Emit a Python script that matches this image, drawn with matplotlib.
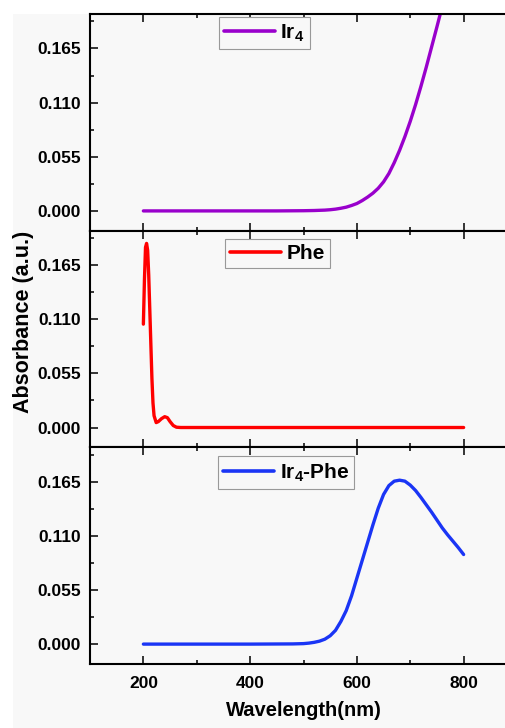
import matplotlib.pyplot as plt
from matplotlib.patches import Rectangle
from matplotlib.ticker import MultipleLocator

# --- data ---
ir4_wl = [200, 300, 400, 450, 500, 510, 520, 530, 540, 550, 560, 570, 580, 590,
          600, 610, 620, 630, 640, 650, 660, 670, 680, 690, 700, 710, 720, 730,
          740, 750, 760, 770]
ir4_abs = [0.0, 0.0, 0.0, 0.0, 0.0002, 0.0003, 0.0004, 0.0006, 0.0008, 0.0012,
           0.0018, 0.0027, 0.0038, 0.0055, 0.0075, 0.0105, 0.014, 0.018, 0.023,
           0.0295, 0.038, 0.049, 0.0615, 0.0755, 0.091, 0.108, 0.1265, 0.146,
           0.1665, 0.187, 0.208, 0.229]

phe_wl = [200, 202, 204, 206, 208, 210, 212, 214, 216, 218, 220, 224, 228, 234,
          240, 245, 250, 256, 262, 270, 400, 600, 800]
phe_abs = [0.105, 0.15, 0.183, 0.187, 0.18, 0.155, 0.12, 0.085, 0.05, 0.025,
           0.012, 0.005, 0.006, 0.009, 0.011, 0.01, 0.006, 0.002, 0.0003, 0.0,
           0.0, 0.0, 0.0]

mix_wl = [200, 400, 480, 500, 510, 520, 530, 540, 550, 560, 570, 580, 590, 600,
          610, 620, 630, 640, 650, 660, 670, 680, 690, 700, 710, 720, 730, 740,
          750, 760, 770, 780, 790, 800]
mix_abs = [0.0, 0.0, 0.0002, 0.0005, 0.001, 0.0018, 0.003, 0.005, 0.0085, 0.014,
           0.023, 0.034, 0.049, 0.067, 0.085, 0.103, 0.121, 0.138, 0.152, 0.161,
           0.1655, 0.1665, 0.1655, 0.1615, 0.156, 0.149, 0.1415, 0.134, 0.126,
           0.118, 0.111, 0.1045, 0.098, 0.091]

series = [
    (ir4_wl, ir4_abs, '#9900cc', 'Ir$_\\mathbf{4}$', (0.302, 0.985)),
    (phe_wl, phe_abs, '#ff0000', 'Phe', (0.316, 0.962)),
    (mix_wl, mix_abs, '#1a35f5', 'Ir$_\\mathbf{4}$-Phe', (0.300, 0.958)),
]

yticks = [0.0, 0.055, 0.110, 0.165]
xticks = [200, 400, 600, 800]

BG = '#f8f8f8'
W, H = 505, 728

plt.rcParams['font.family'] = ['Liberation Sans', 'DejaVu Sans']
plt.rcParams['font.weight'] = 'bold'
plt.rcParams['mathtext.fontset'] = 'custom'
plt.rcParams['mathtext.rm'] = 'Liberation Sans:bold'
plt.rcParams['mathtext.bf'] = 'Liberation Sans:bold'

fig = plt.figure(figsize=(W / 100, H / 100), dpi=100)
fig.patch.set_facecolor('white')
# grey layer area (Origin style)
fig.patches.append(Rectangle((13 / W, 0), 1, 1 - 14 / H, transform=fig.transFigure,
                             facecolor=BG, edgecolor='none', zorder=-10))

left = 90 / W
width = (517 - 90) / W
panel_h = 216.6 / H
tops = [14, 230.6, 447.2]

for i, (wl, ab, col, lab, anchor) in enumerate(series):
    bottom = 1 - (tops[i] + 216.6) / H
    ax = fig.add_axes([left, bottom, width, panel_h])
    ax.set_facecolor(BG)
    ax.plot(wl, ab, color=col, lw=2.4, label=lab, solid_capstyle='round',
            solid_joinstyle='round')
    ax.set_xlim(100, 900)
    ax.set_ylim(-0.02, 0.2)
    ax.set_xticks(xticks)
    ax.xaxis.set_minor_locator(MultipleLocator(100))
    ax.set_yticks(yticks)
    ax.set_yticklabels([f'{v:.3f}' for v in yticks])
    ax.yaxis.set_minor_locator(MultipleLocator(0.0275))
    ax.tick_params(which='both', direction='in', top=True, right=True, width=1.1,
                   labelsize=12.5)
    ax.tick_params(which='major', length=5.5)
    ax.tick_params(which='minor', length=3)
    ax.tick_params(axis='y', pad=6.5)
    ax.tick_params(axis='x', pad=9)
    for s in ax.spines.values():
        s.set_linewidth(1.5)
    if i < 2:
        ax.tick_params(axis='x', labelbottom=False)
    leg = ax.legend(loc='upper left', bbox_to_anchor=anchor, fontsize=15,
                    frameon=True, fancybox=False, edgecolor='#999999',
                    facecolor=BG, framealpha=1, borderaxespad=0, borderpad=0.25,
                    handlelength=2.45, handletextpad=0.25)
    leg.get_frame().set_linewidth(0.8)
    for line in leg.get_lines():
        line.set_linewidth(2.6)
    if i == 2:
        ax.set_xlabel('Wavelength(nm)', fontsize=14.5, fontweight='bold', labelpad=7)

fig.text(24 / W, 1 - 322 / H, 'Absorbance (a.u.)', rotation=90, ha='center',
         va='center', fontsize=15.5, fontweight='bold')

fig.savefig('out.png', dpi=100)
